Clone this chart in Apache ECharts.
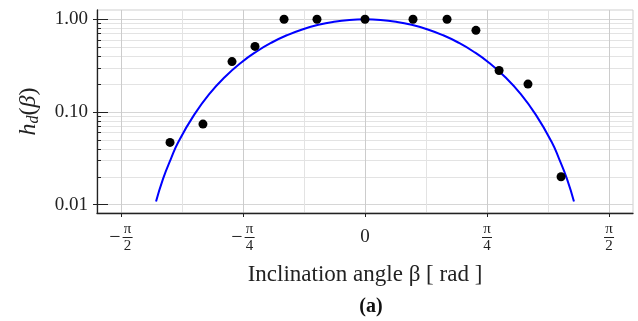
<!DOCTYPE html>
<html>
<head>
<meta charset="utf-8">
<script src="https://cdn.jsdelivr.net/npm/echarts@6/dist/echarts.min.js"></script>
<style>
  html, body { margin: 0; padding: 0; background: #fff; }
  #chart { width: 638px; height: 321px; }
</style>
</head>
<body>
<div id="chart"></div>
<script>
// measured h_d(beta), black dots
const angles = [-1.255, -1.043, -0.856, -0.708, -0.521, -0.309, 0, 0.309, 0.528, 0.714, 0.863, 1.049, 1.262]
const measured = [0.047, 0.074, 0.35, 0.51, 1.0, 1.0, 1.0, 1.0, 1.0, 0.76, 0.28, 0.20, 0.020]

// model curve (blue)
const curveAngles = [-1.345, -1.3, -1.25, -1.2, -1.1, -1.0, -0.9, -0.8, -0.7, -0.6, -0.5, -0.4, -0.3, -0.2, -0.1, 0,
  0.1, 0.2, 0.3, 0.4, 0.5, 0.6, 0.7, 0.8, 0.9, 1.0, 1.1, 1.2, 1.25, 1.3, 1.345]
const curveValues = [0.0108, 0.019, 0.031, 0.048, 0.093, 0.158, 0.240, 0.338, 0.447, 0.562, 0.676, 0.781, 0.872, 0.941, 0.985, 1.0,
  0.985, 0.941, 0.872, 0.781, 0.676, 0.562, 0.447, 0.338, 0.240, 0.158, 0.093, 0.048, 0.031, 0.019, 0.0108]

// axis ticks
const xTicks = [-Math.PI / 2, -Math.PI / 4, 0, Math.PI / 4, Math.PI / 2]
const xTickLabels = ['−π/2', '−π/4', '0', 'π/4', 'π/2']
const xMinorTicks = [-3 * Math.PI / 8, -Math.PI / 8, Math.PI / 8, 3 * Math.PI / 8]
const yTicks = [0.01, 0.1, 1]
const yTickLabels = ['0.01', '0.10', '1.00']
const yMinorTicks = [0.02, 0.03, 0.04, 0.05, 0.06, 0.07, 0.08, 0.09, 0.2, 0.3, 0.4, 0.5, 0.6, 0.7, 0.8, 0.9]

const FONT = 'Liberation Serif'
const X_MIN = -1.725
const X_MAX = 1.725
const Y_MIN = 0.00813
const Y_MAX = 1.26

function xLabel (value) {
  let idx = 0
  xTicks.forEach((t, i) => { if (Math.abs(t - value) < Math.abs(xTicks[idx] - value)) idx = i })
  const s = xTickLabels[idx]
  if (s.indexOf('/') < 0) return '{e| }\n{z|' + s + '}\n{e2| }'
  const neg = s[0] === '−'
  const parts = (neg ? s.slice(1) : s).split('/')
  const sign = neg ? '{m|−}' : ''
  const pad = neg ? '{sp|−}' : ''
  return pad + '{num|' + parts[0] + '}\n' + sign + '{bar| }\n' + pad + '{den|' + parts[1] + '}'
}

const chart = echarts.init(document.getElementById('chart'))

const yBase = {
  type: 'log',
  logBase: 10,
  min: Y_MIN,
  max: Y_MAX,
  position: 'left'
}

const options = {
  backgroundColor: '#fff',
  animation: false,
  textStyle: { fontFamily: FONT },
  title: {
    text: '(a)',
    left: 366,
    top: 292,
    textAlign: 'center',
    textStyle: { fontFamily: FONT, fontWeight: 'bold', fontSize: 20, color: '#111' }
  },
  grid: {
    left: 97,
    right: 5,
    top: 10,
    bottom: 108,
    show: true,
    borderColor: '#cfcfcf',
    borderWidth: 1
  },
  xAxis: [
    {
      type: 'value',
      min: X_MIN,
      max: X_MAX,
      axisLine: { show: true, onZero: false, lineStyle: { color: '#222', width: 1.3 } },
      axisTick: { show: true, length: 4, customValues: xTicks, lineStyle: { color: '#222' } },
      splitLine: { show: true, lineStyle: { color: '#cccccc', width: 1 } },
      axisLabel: {
        customValues: xTicks,
        margin: 11,
        formatter: xLabel,
        color: '#222',
        rich: {
          num: { fontFamily: FONT, fontSize: 15, lineHeight: 11, width: 11, align: 'center', color: '#222' },
          den: { fontFamily: FONT, fontSize: 15, lineHeight: 13, width: 11, align: 'center', color: '#222' },
          bar: { height: 1, width: 10, lineHeight: 5, backgroundColor: '#222' },
          m: { fontFamily: FONT, fontSize: 20, lineHeight: 5, color: '#222', padding: [0, 2, 0, 0] },
          sp: { fontFamily: FONT, fontSize: 20, lineHeight: 5, color: 'transparent', padding: [0, 2, 0, 0] },
          e: { fontSize: 9, lineHeight: 11 },
          e2: { fontSize: 9, lineHeight: 13 },
          z: { fontFamily: FONT, fontSize: 19, lineHeight: 5, color: '#222' }
        }
      },
      name: 'Inclination angle β [ rad ]',
      nameLocation: 'middle',
      nameGap: 50,
      nameTextStyle: { fontFamily: FONT, fontSize: 23, color: '#222' }
    },
    {
      type: 'value',
      min: X_MIN,
      max: X_MAX,
      position: 'bottom',
      axisLine: { show: false, onZero: false },
      axisTick: { show: false, customValues: xMinorTicks },
      axisLabel: { show: false },
      splitLine: { show: true, lineStyle: { color: '#e3e3e3', width: 1 } }
    }
  ],
  yAxis: [
    Object.assign({}, yBase, {
      axisLine: { show: true, onZero: false, lineStyle: { color: '#222', width: 1.3 } },
      axisTick: { show: true, inside: true, length: 11, customValues: yTicks, lineStyle: { color: '#222' } },
      splitLine: { show: true, lineStyle: { color: '#d6d6d6', width: 1 } },
      axisLabel: {
        customValues: yTicks,
        margin: 9,
        fontFamily: FONT,
        fontSize: 19,
        color: '#222',
        formatter: (v) => {
          let idx = 0
          yTicks.forEach((t, i) => { if (Math.abs(Math.log10(t) - Math.log10(v)) < 0.01) idx = i })
          return yTickLabels[idx]
        }
      },
      name: '{h|h}{d|d}{p|(}{h|β}{p|)}',
      nameLocation: 'middle',
      nameRotate: 90,
      nameGap: 55,
      nameTextStyle: {
        rich: {
          h: { fontFamily: FONT, fontStyle: 'italic', fontSize: 24, color: '#222' },
          d: { fontFamily: FONT, fontStyle: 'italic', fontSize: 16, color: '#222', padding: [10, 0, 0, 0] },
          p: { fontFamily: FONT, fontSize: 24, color: '#222' }
        }
      }
    }),
    Object.assign({}, yBase, {
      axisLine: { show: false, onZero: false },
      axisTick: { show: true, inside: false, length: 4, customValues: yTicks, lineStyle: { color: '#222' } },
      axisLabel: { show: false },
      splitLine: { show: false }
    }),
    Object.assign({}, yBase, {
      axisLine: { show: false, onZero: false },
      axisTick: { show: true, inside: true, length: 4, customValues: yMinorTicks, lineStyle: { color: '#222' } },
      axisLabel: { show: false },
      splitLine: { show: true, lineStyle: { color: '#e3e3e3', width: 1 } }
    })
  ],
  series: [
    {
      name: 'model',
      type: 'line',
      xAxisIndex: 0,
      yAxisIndex: 0,
      smooth: true,
      showSymbol: false,
      lineStyle: { color: '#0000ff', width: 2 },
      data: curveAngles.map((a, i) => [a, curveValues[i]]),
      z: 3
    },
    {
      name: 'measured',
      type: 'scatter',
      xAxisIndex: 0,
      yAxisIndex: 0,
      symbolSize: 9,
      itemStyle: { color: '#000', opacity: 1 },
      data: angles.map((a, i) => [a, measured[i]]),
      z: 4
    }
  ]
}

chart.setOption(options, true)
</script>
</body>
</html>
